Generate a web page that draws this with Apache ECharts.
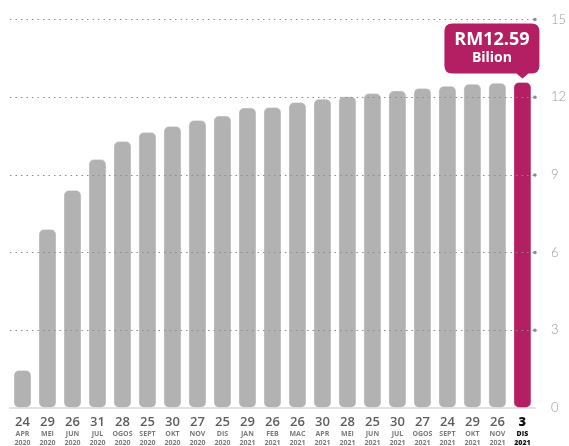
<!DOCTYPE html>
<html>
<head>
<meta charset="utf-8">
<script src="https://cdn.jsdelivr.net/npm/echarts@6/dist/echarts.min.js"></script>
<style>
  html, body { margin: 0; padding: 0; background: #fff; }
  #chart { width: 569px; height: 446px; }
</style>
</head>
<body>
<div id="chart"></div>
<script>
// tarikh (hari / bulan / tahun)
var days = ['24', '29', '26', '31', '28', '25', '30', '27', '25', '29', '26',
            '26', '30', '28', '25', '30', '27', '24', '29', '26', '3'];
var months = ['APR', 'MEI', 'JUN', 'JUL', 'OGOS', 'SEPT', 'OKT', 'NOV', 'DIS', 'JAN', 'FEB',
              'MAC', 'APR', 'MEI', 'JUN', 'JUL', 'OGOS', 'SEPT', 'OKT', 'NOV', 'DIS'];
var years = ['2020', '2020', '2020', '2020', '2020', '2020', '2020', '2020', '2020', '2021', '2021',
             '2021', '2021', '2021', '2021', '2021', '2021', '2021', '2021', '2021', '2021'];
// nilai kumulatif (RM bilion)
var values = [1.47, 6.91, 8.42, 9.61, 10.31, 10.66, 10.89, 11.12, 11.29, 11.6, 11.62,
              11.81, 11.94, 12.04, 12.16, 12.26, 12.36, 12.44, 12.52, 12.56, 12.59];
var yTicks = [3, 6, 9, 12, 15];

var grey = '#b2b2b2';
var magenta = '#b41f63';
var last = values.length - 1;

var categories = days.map(function (d, i) { return d + ' ' + months[i] + ' ' + years[i]; });

var myChart = echarts.init(document.getElementById('chart'));

// kotak label dengan penunjuk ke bawah
var calloutPath = 'path://M8,0 H87 Q95,0 95,8 V42 Q95,50 87,50 H84 L78,55 L72,50 H8 Q0,50 0,42 V8 Q0,0 8,0 Z';

var option = {
  animation: false,
  grid: { left: 10, right: 27, top: 19.5, bottom: 38 },
  xAxis: {
    type: 'category',
    data: categories,
    axisTick: { show: false },
    axisLine: { show: true, lineStyle: { color: '#e2e2e2', width: 2 } },
    axisLabel: {
      interval: 0,
      margin: 8,
      fontFamily: 'Open Sans',
      formatter: function (value, index) {
        if (index === last) {
          return '{dh|' + days[index] + '}\n{mh|' + months[index] + '}\n{yh|' + years[index] + '}';
        }
        return '{d|' + days[index] + '}\n{m|' + months[index] + '}\n{y|' + years[index] + '}';
      },
      rich: {
        d: { fontSize: 13, fontWeight: 600, color: '#5e5e5e', lineHeight: 13, fontFamily: 'Open Sans' },
        m: { fontSize: 7, fontWeight: 700, color: '#7a7a7a', lineHeight: 9, fontFamily: 'Open Sans' },
        y: { fontSize: 7, fontWeight: 700, color: '#7a7a7a', lineHeight: 9, fontFamily: 'Open Sans' },
        dh: { fontSize: 13, fontWeight: 800, color: '#111', lineHeight: 13, fontFamily: 'Open Sans' },
        mh: { fontSize: 7, fontWeight: 800, color: '#111', lineHeight: 9, fontFamily: 'Open Sans' },
        yh: { fontSize: 7, fontWeight: 800, color: '#111', lineHeight: 9, fontFamily: 'Open Sans' }
      }
    }
  },
  yAxis: {
    type: 'value',
    position: 'right',
    min: 0,
    max: 15,
    interval: 3,
    axisLine: { show: false },
    axisTick: { show: false },
    splitLine: { show: false },
    axisLabel: {
      margin: 16,
      color: '#999',
      fontSize: 13,
      fontWeight: 300,
      fontFamily: 'Lato',
      padding: [0, 0, 6, 0]
    }
  },
  series: [{
    type: 'bar',
    barWidth: 18,
    data: values.map(function (v, i) {
      return {
        value: v,
        itemStyle: { color: i === last ? magenta : grey }
      };
    }),
    itemStyle: {
      borderRadius: 5,
      borderColor: 'rgba(255,255,255,0.35)',
      borderWidth: 1
    },
    emphasis: { disabled: true },
    markLine: {
      silent: true,
      symbol: ['none', 'circle'],
      symbolSize: 3.5,
      label: { show: false },
      lineStyle: { type: [1.5, 4], color: '#8c8c8c', width: 1 },
      data: yTicks.map(function (t) { return { yAxis: t }; })
    },
    markPoint: {
      silent: true,
      symbol: calloutPath,
      symbolSize: [95, 55],
      symbolOffset: [-30.5, -31],
      itemStyle: { color: magenta },
      label: {
        show: true,
        offset: [0, -2],
        formatter: function (p) {
          return '{a|RM' + p.value.toFixed(2) + '}\n{b|Bilion}';
        },
        rich: {
          a: { color: '#fff', fontSize: 18, fontWeight: 700, lineHeight: 19, fontFamily: 'Open Sans' },
          b: { color: '#fff', fontSize: 14, fontWeight: 700, lineHeight: 18, fontFamily: 'Open Sans' }
        }
      },
      data: [{ coord: [last, values[last]], value: values[last] }]
    }
  }]
};

myChart.setOption(option);
</script>
</body>
</html>
